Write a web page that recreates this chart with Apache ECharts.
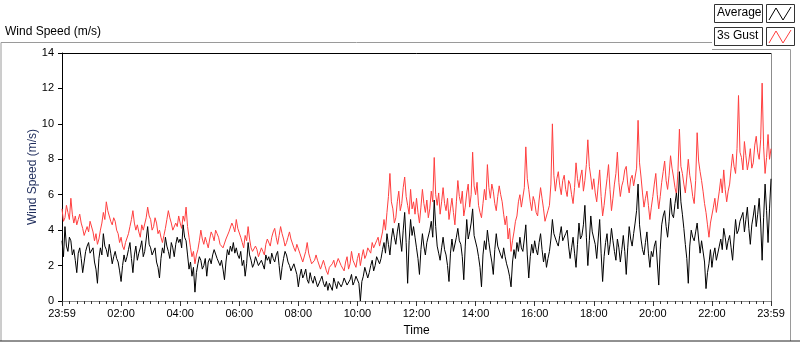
<!DOCTYPE html>
<html>
<head>
<meta charset="utf-8">
<script src="https://cdn.jsdelivr.net/npm/echarts@6/dist/echarts.min.js"></script>
<style>
  html, body { margin: 0; padding: 0; background: #fff; }
  #chart { width: 800px; height: 342px; }
</style>
</head>
<body>
<div id="chart"></div>
<script>
// samples every 3 minutes, from 23:59 to 23:59 (one row = one hour)
var tickLabels = ['23:59', '02:00', '04:00', '06:00', '08:00', '10:00', '12:00',
  '14:00', '16:00', '18:00', '20:00', '22:00', '23:59'];

// 3s gust (m/s)
var gust = [
  5.2, 4.5, 4.7, 5.4, 5.0, 4.6, 5.8, 4.9, 4.4, 4.8, 4.3, 4.6, 4.9, 4.4, 4.1, 3.7, 3.6, 4.2, 3.9, 4.5,
  4.6, 3.9, 3.4, 3.8, 3.2, 3.5, 4.0, 4.4, 5.0, 4.6, 5.6, 5.1, 4.8, 4.5, 4.3, 4.7, 4.5, 4.0, 3.8, 3.3,
  3.6, 3.1, 2.9, 3.3, 3.4, 3.8, 4.2, 4.6, 5.1, 4.4, 4.0, 4.3, 3.9, 3.6, 4.3, 4.0, 4.1, 4.7, 5.3, 4.8,
  4.6, 4.0, 4.2, 4.7, 4.4, 3.8, 4.0, 3.6, 3.3, 3.7, 4.1, 4.6, 5.1, 4.7, 4.4, 4.0, 3.9, 4.4, 4.2, 4.8,
  4.4, 4.1, 4.8, 4.5, 5.3, 4.2, 3.6, 3.0, 2.5, 2.8, 2.1, 2.6, 2.9, 3.4, 4.0, 3.5, 3.2, 3.6, 3.3, 3.0,
  3.5, 3.9, 3.7, 3.4, 4.0, 3.8, 3.6, 3.2, 3.3, 3.0, 3.1, 3.5, 3.4, 3.9, 3.8, 4.4, 4.2, 3.9, 4.6, 4.1,
  4.2, 3.6, 3.3, 3.0, 3.7, 3.4, 4.2, 3.5, 3.0, 2.8, 2.7, 3.1, 2.9, 2.5, 2.6, 3.0, 2.8, 2.6, 3.2, 3.5,
  3.4, 3.1, 3.6, 3.9, 4.1, 3.6, 3.2, 3.7, 4.2, 3.8, 3.5, 3.1, 3.3, 3.6, 3.9, 3.5, 3.4, 3.0, 2.8, 3.2,
  3.1, 2.7, 2.6, 2.2, 2.3, 2.8, 3.3, 2.7, 2.4, 2.1, 2.0, 2.3, 2.6, 2.3, 2.2, 1.8, 1.9, 2.3, 2.0, 1.7,
  1.5, 1.9, 1.8, 2.1, 2.3, 1.9, 2.0, 2.4, 2.4, 2.0, 1.9, 1.7, 2.2, 2.5, 1.8, 2.1, 2.8, 2.3, 2.2, 1.9,
  2.4, 2.7, 2.0, 2.5, 2.9, 2.4, 2.6, 3.0, 3.1, 2.7, 3.3, 3.0, 2.9, 3.4, 3.6, 3.1, 3.2, 3.9, 4.6, 4.0,
  5.0, 5.9, 7.2, 5.6, 5.2, 4.4, 4.7, 5.6, 6.2, 5.1, 5.5, 6.4, 7.0, 5.9, 5.4, 4.9, 6.3, 5.2, 5.6, 4.9,
  5.8, 5.0, 4.4, 5.3, 6.3, 5.5, 5.0, 5.7, 4.7, 5.2, 6.2, 5.6, 8.1, 6.0, 5.4, 6.1, 4.9, 5.6, 6.4, 5.5,
  5.1, 5.8, 4.6, 5.2, 5.8, 5.0, 4.3, 5.6, 6.8, 5.9, 5.5, 6.2, 4.8, 5.3, 6.1, 6.6, 5.3, 6.0, 8.4, 6.5,
  6.0, 6.7, 5.4, 5.0, 4.7, 5.5, 6.3, 5.7, 7.7, 6.4, 5.8, 6.6, 6.2, 5.5, 5.1, 5.9, 6.5, 6.0, 5.6, 4.9,
  4.3, 4.8, 3.5, 4.1, 2.8, 3.4, 3.9, 4.5, 4.8, 5.6, 6.0, 5.3, 5.2, 6.4, 8.7, 6.9, 6.3, 5.6, 5.1, 5.9,
  5.6, 5.0, 4.8, 5.7, 6.4, 5.8, 5.2, 4.5, 4.6, 5.1, 5.4, 6.6, 10.0, 7.1, 6.2, 6.9, 7.3, 6.5, 6.0, 6.8,
  7.1, 6.3, 5.9, 6.8, 6.6, 6.0, 5.5, 6.4, 7.8, 6.9, 6.4, 7.0, 7.4, 6.2, 6.8, 7.7, 9.1, 7.6, 7.0, 6.3,
  6.9, 6.1, 5.6, 6.5, 7.4, 5.9, 4.8, 5.4, 6.2, 6.9, 7.7, 6.3, 5.1, 5.8, 6.6, 7.2, 8.4, 6.7, 5.9, 6.5,
  6.8, 7.4, 7.6, 6.6, 6.1, 6.9, 7.1, 6.5, 6.4, 7.5, 10.2, 7.8, 7.0, 6.1, 5.3, 5.8, 6.2, 5.4, 4.6, 5.3,
  5.9, 6.6, 7.2, 6.0, 5.2, 5.9, 6.7, 7.3, 7.9, 6.8, 6.3, 7.1, 8.2, 7.5, 7.0, 6.4, 6.0, 7.3, 9.7, 7.6,
  7.2, 6.6, 6.1, 7.0, 8.0, 7.1, 6.6, 5.9, 5.5, 6.8, 9.5, 7.9, 7.3, 6.8, 6.2, 5.5, 5.0, 4.3, 3.6, 4.4,
  4.5, 5.3, 5.8, 5.0, 5.1, 6.2, 6.9, 6.1, 7.4, 6.3, 5.6, 6.2, 6.6, 7.5, 8.3, 7.6, 7.2, 8.6, 11.6, 8.4,
  8.1, 7.4, 9.0, 8.2, 7.4, 7.9, 8.6, 7.5, 7.8, 8.8, 9.3, 8.4, 8.0, 9.1, 12.3, 8.7, 7.2, 8.1, 9.4, 8.0, 8.6
];

// average (m/s)
var average = [
  3.4, 2.5, 4.2, 3.1, 2.8, 3.6, 3.4, 2.6, 2.9, 2.3, 1.6, 2.7, 3.0, 2.4, 1.6, 2.2, 2.8, 3.1, 3.3, 2.7,
  2.6, 3.0, 2.2, 1.8, 1.0, 2.4, 3.0, 2.6, 3.8, 3.1, 2.9, 2.5, 3.2, 2.7, 2.1, 2.5, 2.8, 2.4, 2.2, 1.7,
  1.1, 2.0, 2.6, 2.2, 2.5, 2.9, 3.3, 2.4, 1.6, 2.6, 3.1, 2.3, 2.7, 3.0, 3.4, 2.5, 2.8, 3.5, 4.2, 3.2,
  3.0, 2.6, 2.5, 3.0, 2.2, 1.9, 1.3, 2.4, 3.0, 2.7, 3.6, 3.1, 2.8, 2.4, 3.3, 3.0, 2.5, 3.2, 3.6, 3.3,
  3.5, 3.0, 4.3, 3.6, 3.4, 2.6, 1.8, 2.2, 1.4, 1.9, 0.5, 1.6, 2.1, 2.5, 2.3, 1.8, 2.0, 2.4, 1.4, 2.2,
  2.4, 2.1, 2.6, 2.9, 2.8, 2.4, 2.5, 2.0, 2.3, 1.8, 1.2, 2.2, 2.9, 2.6, 3.1, 2.8, 3.3, 2.7, 3.0, 2.6,
  2.4, 2.8, 2.0, 2.3, 1.4, 2.1, 3.3, 2.6, 2.3, 1.9, 2.1, 2.5, 2.4, 2.0, 1.9, 2.3, 2.2, 1.8, 2.6, 2.3,
  2.5, 2.1, 2.7, 2.4, 2.2, 2.6, 2.8, 2.0, 1.2, 1.9, 2.4, 2.8, 2.6, 2.2, 2.0, 1.7, 1.6, 2.1, 2.2, 1.5,
  0.8, 1.4, 1.8, 1.3, 1.5, 1.8, 1.2, 1.0, 1.6, 1.2, 1.0, 1.4, 1.3, 0.8, 0.9, 1.2, 1.4, 1.0, 0.8, 1.1,
  0.6, 1.0, 0.9, 0.6, 1.3, 1.0, 0.7, 1.1, 1.2, 0.8, 1.0, 1.3, 1.4, 0.9, 0.8, 1.2, 1.5, 0.9, 1.1, 1.4,
  1.5, 1.0, 0.0, 1.1, 1.4, 1.9, 1.8, 1.3, 1.6, 2.0, 2.3, 1.7, 2.0, 2.5, 2.6, 2.1, 2.4, 2.9, 3.3, 2.7,
  3.8, 3.2, 2.6, 3.5, 4.1, 3.6, 3.2, 3.9, 4.4, 3.5, 2.8, 4.0, 5.0, 3.3, 1.0, 3.4, 4.6, 3.7, 4.2, 3.6,
  3.0, 2.4, 1.5, 2.9, 3.8, 3.1, 2.6, 3.3, 3.4, 4.0, 4.5, 3.6, 5.7, 4.2, 3.1, 2.7, 2.3, 3.0, 3.6, 2.9,
  2.6, 2.0, 1.1, 2.7, 3.5, 2.8, 2.9, 3.6, 4.1, 3.4, 3.2, 2.5, 1.2, 3.1, 4.6, 3.5, 3.9, 4.4, 5.2, 3.7,
  3.6, 3.0, 2.5, 1.9, 0.8, 2.6, 3.4, 2.9, 4.0, 3.3, 2.7, 2.2, 1.5, 2.9, 3.8, 3.1, 3.2, 2.6, 2.4, 3.0,
  2.5, 2.1, 1.8, 1.4, 0.8, 2.2, 2.9, 2.4, 3.3, 2.8, 3.6, 3.0, 2.8, 3.5, 4.3, 2.6, 1.3, 2.5, 3.2, 2.7,
  3.4, 2.9, 2.6, 3.3, 3.8, 2.9, 2.2, 2.7, 1.9, 2.4, 2.8, 3.5, 4.6, 3.8, 3.9, 3.3, 3.1, 3.7, 4.2, 3.4,
  3.3, 3.8, 4.0, 3.1, 2.4, 3.0, 3.6, 2.7, 1.9, 3.2, 4.4, 3.5, 3.7, 4.3, 5.4, 3.6, 2.0, 3.4, 4.8, 3.9,
  3.9, 3.2, 2.4, 3.5, 4.6, 2.7, 1.1, 2.5, 3.3, 3.8, 2.6, 3.2, 4.1, 3.4, 2.8, 2.3, 3.5, 3.0, 2.2, 2.9,
  3.7, 2.8, 1.5, 3.0, 4.2, 3.5, 3.1, 3.8, 4.4, 5.1, 6.6, 4.3, 3.5, 2.9, 2.6, 3.3, 3.9, 2.7, 1.9, 2.8,
  2.5, 3.1, 3.4, 2.2, 0.9, 2.9, 4.3, 4.8, 5.1, 4.2, 3.6, 4.5, 5.8, 4.9, 4.7, 5.5, 6.1, 5.2, 7.3, 5.6,
  4.9, 4.1, 3.2, 2.4, 1.0, 3.1, 4.0, 3.6, 3.4, 3.9, 4.4, 3.5, 2.7, 3.4, 3.3, 2.2, 0.7, 1.6, 2.1, 2.9,
  1.9, 2.6, 3.0, 2.3, 2.4, 3.1, 3.5, 2.9, 4.1, 3.6, 2.9, 3.4, 3.7, 3.0, 2.3, 3.5, 4.6, 3.8, 4.0, 4.5,
  4.5, 5.0, 3.9, 4.6, 5.3, 4.1, 3.2, 4.3, 4.8, 5.4, 4.2, 4.9, 5.8, 4.4, 2.3, 4.7, 6.6, 5.1, 3.3, 5.2, 6.9
];

// spread the samples evenly over the 1440 minutes of the day
function toPairs(arr) {
  var step = 1440 / (arr.length - 1);
  return arr.map(function (v, i) { return [i * step, v]; });
}

var font = 'Liberation Sans';
var chart = echarts.init(document.getElementById('chart'), null, { renderer: 'canvas' });

chart.setOption({
  backgroundColor: '#fff',
  animation: false,
  textStyle: { fontFamily: font },
  grid: { left: 62, top: 53, right: 29, bottom: 39 },
  xAxis: {
    type: 'value',
    min: 0,
    max: 1440,
    interval: 120,
    name: 'Time',
    nameLocation: 'middle',
    nameGap: 24,
    nameMoveOverlap: false,
    nameTextStyle: { color: '#000', fontSize: 12, fontFamily: font },
    axisLine: { lineStyle: { color: '#8c8c8c', width: 1 } },
    axisTick: { length: 5, lineStyle: { color: '#333' } },
    minorTick: { show: true, splitNumber: 8, length: 3, lineStyle: { color: '#333' } },
    splitLine: { show: false },
    axisLabel: {
      color: '#000', fontSize: 11, fontFamily: font, margin: 7,
      formatter: function (v) { return tickLabels[Math.round(v / 120)]; }
    }
  },
  yAxis: {
    type: 'value',
    min: 0,
    max: 14,
    interval: 2,
    name: 'Wind Speed (m/s)',
    nameLocation: 'middle',
    nameRotate: 90,
    nameGap: 23,
    nameMoveOverlap: false,
    nameTextStyle: { color: '#1f2d5c', fontSize: 12, fontFamily: font },
    axisLine: { show: true, lineStyle: { color: '#000', width: 1 } },
    axisTick: { show: true, length: 4, lineStyle: { color: '#000' } },
    splitLine: { show: false },
    axisLabel: { color: '#000', fontSize: 11, fontFamily: font, margin: 8 }
  },
  series: [{
    name: '3s Gust',
    type: 'line',
    data: toPairs(gust),
    showSymbol: false,
    lineStyle: { color: '#ff3f3f', width: 1 },
    itemStyle: { color: '#ff3f3f' },
    z: 2
  }, {
    name: 'Average',
    type: 'line',
    data: toPairs(average),
    showSymbol: false,
    lineStyle: { color: '#000', width: 1 },
    itemStyle: { color: '#000' },
    z: 3
  }],
  graphic: [
    // chart title
    { type: 'text', left: 5, top: 26, style: { text: 'Wind Speed (m/s)', fill: '#000', font: '12px ' + font } },
    // outer frame
    { type: 'polyline', shape: { points: [[1, 341], [1, 42.5], [712, 42.5]] }, style: { stroke: '#9a9a9a', lineWidth: 1, fill: null } },
    { type: 'polyline', shape: { points: [[712, 49.5], [790.5, 49.5], [790.5, 341]] }, style: { stroke: '#9a9a9a', lineWidth: 1, fill: null } },
    { type: 'line', shape: { x1: 0, y1: 341, x2: 800, y2: 341 }, style: { stroke: '#222', lineWidth: 1 } },
    // plot box: black top, gray right
    { type: 'line', shape: { x1: 62, y1: 53.5, x2: 771.5, y2: 53.5 }, style: { stroke: '#000', lineWidth: 1 } },
    { type: 'line', shape: { x1: 771.5, y1: 53, x2: 771.5, y2: 303 }, style: { stroke: '#8c8c8c', lineWidth: 1 } },
    // legend
    { type: 'rect', shape: { x: 714.5, y: 4.5, width: 48, height: 18 }, style: { stroke: '#333', fill: '#fff', lineWidth: 1 } },
    { type: 'text', left: 717, top: 7, style: { text: 'Average', fill: '#000', font: '12px ' + font } },
    { type: 'rect', shape: { x: 766.5, y: 4.5, width: 28, height: 18 }, style: { stroke: '#333', fill: '#fff', lineWidth: 1 } },
    { type: 'polyline', shape: { points: [[769, 20], [776, 8], [783, 20], [791, 7]] }, style: { stroke: '#000', lineWidth: 1, fill: null } },
    { type: 'rect', shape: { x: 714.5, y: 27.5, width: 48, height: 18 }, style: { stroke: '#333', fill: '#fff', lineWidth: 1 } },
    { type: 'text', left: 717, top: 30, style: { text: '3s Gust', fill: '#000', font: '12px ' + font } },
    { type: 'rect', shape: { x: 766.5, y: 27.5, width: 28, height: 18 }, style: { stroke: '#333', fill: '#fff', lineWidth: 1 } },
    { type: 'polyline', shape: { points: [[769, 43], [776, 31], [783, 43], [791, 30]] }, style: { stroke: '#ff3f3f', lineWidth: 1, fill: null } }
  ]
});
</script>
</body>
</html>
